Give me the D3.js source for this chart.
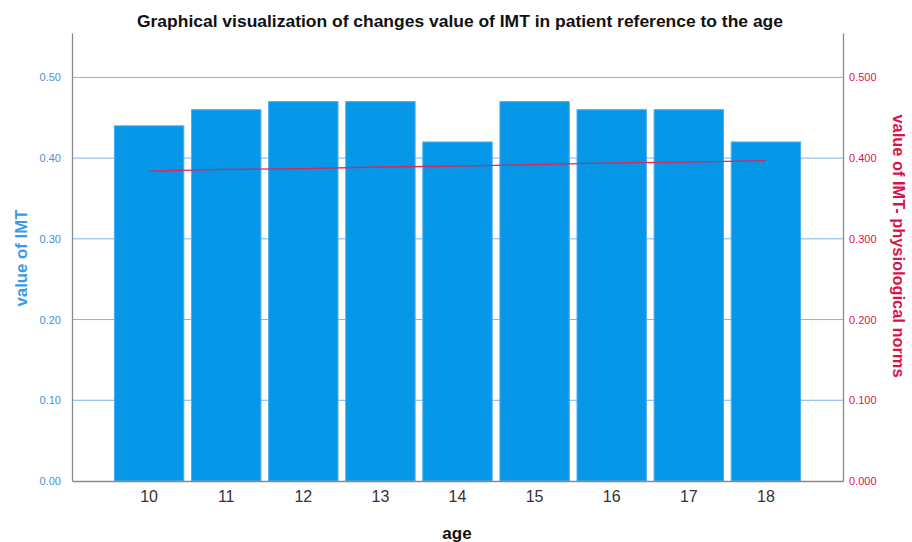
<!DOCTYPE html>
<html>
<head>
<meta charset="utf-8">
<script src="https://cdn.jsdelivr.net/npm/d3@7"></script>
<style>
  body { margin: 0; background: #fff; }
  svg text { font-family: "Liberation Sans", Arial, sans-serif; }
</style>
</head>
<body>
<div id="chart"></div>
<script>
// data
var ages = ["10", "11", "12", "13", "14", "15", "16", "17", "18"];
var imtValues = [0.44, 0.46, 0.47, 0.47, 0.42, 0.47, 0.46, 0.46, 0.42];
var normValues = [0.384, 0.386, 0.387, 0.389, 0.390, 0.392, 0.394, 0.395, 0.397];
var leftTicks = [0, 0.1, 0.2, 0.3, 0.4, 0.5];
var rightTicks = [0, 0.1, 0.2, 0.3, 0.4, 0.5];

var W = 912, H = 542;
var margin = {top: 33, right: 69, bottom: 61, left: 72};
var w = W - margin.left - margin.right,
    h = H - margin.top - margin.bottom;

var svg = d3.select("#chart")
            .append("svg")
            .attr("width", W)
            .attr("height", H);

var g = svg.append("g")
           .attr("transform", "translate(" + margin.left + "," + margin.top + ")");

/***Scales***/
var xScale = d3.scaleBand()
               .domain(ages)
               .range([0, w])
               .paddingInner(0.1)
               .paddingOuter(0.55);
var yScale = d3.scaleLinear()
               .domain([0, 0.555])
               .range([h, 0]);
var y2Scale = d3.scaleLinear()
               .domain([0, 0.555])
               .range([h, 0]);

/***Gridlines***/
g.selectAll(".grid")
  .data(leftTicks.filter(function(d){ return d > 0; }))
  .enter()
  .append("line")
  .attr("class", "grid")
  .attr("x1", 0)
  .attr("x2", w)
  .attr("y1", function(d){ return yScale(d); })
  .attr("y2", function(d){ return yScale(d); })
  .attr("stroke", "#7db4ea")
  .attr("stroke-width", 1);

/***Bars***/
g.selectAll("rect.bar")
  .data(imtValues)
  .enter()
  .append("rect")
  .attr("class", "bar")
  .attr("x", function(d, i){ return xScale(ages[i]); })
  .attr("y", function(d){ return yScale(d); })
  .attr("width", xScale.bandwidth())
  .attr("height", function(d){ return h - yScale(d); })
  .attr("fill", "#0797e8")
  .attr("stroke", "#4aaef0")
  .attr("stroke-width", 1);

/***Norm line***/
var normLine = d3.line()
                 .x(function(d, i){ return xScale(ages[i]) + xScale.bandwidth() / 2; })
                 .y(function(d){ return y2Scale(d); });

g.append("path")
  .datum(normValues)
  .attr("d", normLine)
  .attr("fill", "none")
  .attr("stroke", "#d6285a")
  .attr("stroke-width", 1.3);

/***Axes***/
var leftAxis = d3.axisLeft(yScale)
                 .tickValues(leftTicks)
                 .tickSize(0)
                 .tickPadding(11)
                 .tickFormat(d3.format(".2f"));
var rightAxis = d3.axisRight(y2Scale)
                 .tickValues(rightTicks)
                 .tickSize(0)
                 .tickPadding(6)
                 .tickFormat(d3.format(".3f"));
var bottomAxis = d3.axisBottom(xScale)
                 .tickSize(0)
                 .tickPadding(10);

var la = g.append("g").call(leftAxis);
la.select(".domain").attr("stroke", "#8a8a8a").attr("stroke-width", 1.3);
la.selectAll("text").attr("fill", "#4a90d9").style("font-size", "11px");

var ra = g.append("g")
          .attr("transform", "translate(" + w + ",0)")
          .call(rightAxis);
ra.select(".domain").attr("stroke", "#8a8a8a").attr("stroke-width", 1.3);
ra.selectAll("text").attr("fill", "#d9124c").style("font-size", "11px");

var ba = g.append("g")
          .attr("transform", "translate(0," + h + ")")
          .call(bottomAxis);
ba.select(".domain").attr("stroke", "#8a8a8a").attr("stroke-width", 1.3);
ba.selectAll("text").attr("fill", "#333").style("font-size", "16px");

/***Titles***/
svg.append("text")
   .attr("x", 460)
   .attr("y", 27)
   .attr("text-anchor", "middle")
   .attr("textLength", 646)
   .attr("lengthAdjust", "spacingAndGlyphs")
   .style("font-size", "17px")
   .style("font-weight", "bold")
   .attr("fill", "#111")
   .text("Graphical visualization of changes value of IMT in patient reference to the age");

svg.append("text")
   .attr("x", 457)
   .attr("y", 539)
   .attr("text-anchor", "middle")
   .style("font-size", "17px")
   .style("font-weight", "bold")
   .attr("fill", "#111")
   .text("age");

svg.append("text")
   .attr("transform", "translate(27,258) rotate(-90)")
   .attr("text-anchor", "middle")
   .attr("textLength", 97)
   .attr("lengthAdjust", "spacingAndGlyphs")
   .style("font-size", "17px")
   .style("font-weight", "bold")
   .attr("fill", "#3b9ae8")
   .text("value of IMT");

svg.append("text")
   .attr("transform", "translate(893,246) rotate(90)")
   .attr("text-anchor", "middle")
   .attr("textLength", 263)
   .attr("lengthAdjust", "spacingAndGlyphs")
   .style("font-size", "17px")
   .style("font-weight", "bold")
   .attr("fill", "#d9124c")
   .text("value of IMT- physiological norms");
</script>
</body>
</html>
